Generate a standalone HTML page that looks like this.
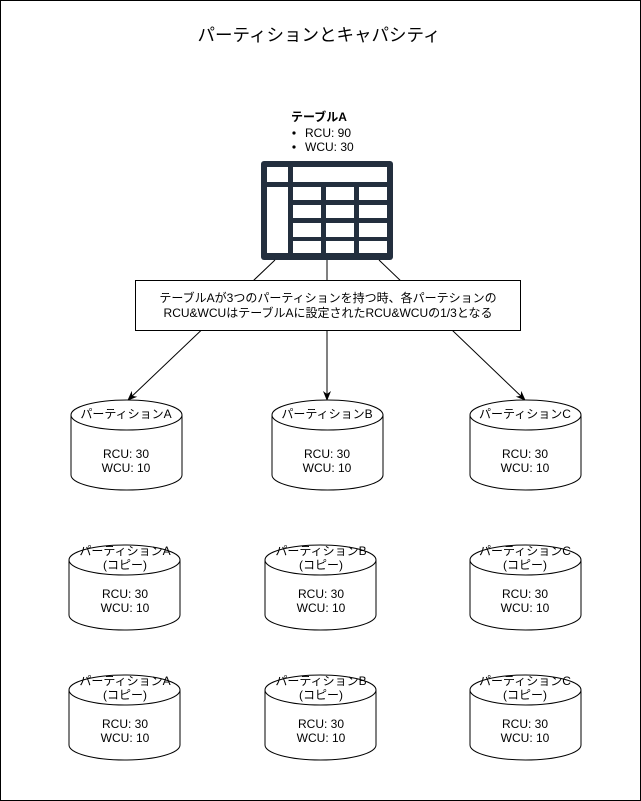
<!DOCTYPE html>
<html><head><meta charset="utf-8"><style>
html,body{margin:0;padding:0;background:#fff}
svg{display:block}
text{font-family:"Liberation Sans","Noto Sans CJK JP",sans-serif;fill:#000}
</style></head><body>
<svg width="641" height="801" viewBox="0 0 641 801" xmlns="http://www.w3.org/2000/svg">
<defs>
<marker id="ar" markerWidth="10" markerHeight="10" refX="9" refY="5" orient="auto" markerUnits="userSpaceOnUse">
<path d="M0,1 L10,5 L0,9 L3,5 Z" fill="#000"/>
</marker>
<g id="cyl">
<path d="M0,15 A55.5,15 0 0 1 111,15 L111,75 A55.5,15 0 0 1 0,75 Z" fill="#fff" stroke="#000" stroke-width="1"/>
<path d="M0,15 A55.5,15 0 0 0 111,15" fill="none" stroke="#000" stroke-width="1"/>
</g>
<g id="cyl2">
<path d="M0,15 A55.5,15 0 0 1 111,15 L111,70 A55.5,15 0 0 1 0,70 Z" fill="#fff" stroke="#000" stroke-width="1"/>
<path d="M0,15 A55.5,15 0 0 0 111,15" fill="none" stroke="#000" stroke-width="1"/>
</g>
</defs>
<rect x="0.5" y="0.5" width="640" height="800" fill="#fff" stroke="#000"/>
<text x="319" y="41" font-size="17.5" text-anchor="middle">パーティションとキャパシティ</text>

<text x="291" y="121" font-size="12" font-weight="bold">テーブルA</text>
<circle cx="294" cy="133" r="1.6" fill="#000"/>
<circle cx="294" cy="147" r="1.6" fill="#000"/>
<text x="305" y="137" font-size="12">RCU: 90</text>
<text x="305" y="151" font-size="12">WCU: 30</text>

<rect x="261" y="161" width="132" height="99" rx="3" fill="#232F3E"/>
<g fill="#fff">
<rect x="267" y="167" width="21" height="15"/>
<rect x="293" y="167" width="94" height="15"/>
<rect x="267" y="187" width="21" height="66"/>
<rect x="293" y="187" width="28" height="13"/><rect x="326" y="187" width="28" height="13"/><rect x="359" y="187" width="28" height="13"/>
<rect x="293" y="205" width="28" height="13"/><rect x="326" y="205" width="28" height="13"/><rect x="359" y="205" width="28" height="13"/>
<rect x="293" y="223" width="28" height="14"/><rect x="326" y="223" width="28" height="14"/><rect x="359" y="223" width="28" height="14"/>
<rect x="293" y="241" width="28" height="12"/><rect x="326" y="241" width="28" height="12"/><rect x="359" y="241" width="28" height="12"/>
</g>

<g stroke="#000" stroke-width="1" fill="none">
<line x1="275" y1="260" x2="128" y2="400" marker-end="url(#ar)"/>
<line x1="327" y1="260" x2="327" y2="400" marker-end="url(#ar)"/>
<line x1="379" y1="260" x2="525" y2="400" marker-end="url(#ar)"/>
</g>

<rect x="135.5" y="280.5" width="385" height="50" fill="#fff" stroke="#000"/>
<text x="328" y="302" font-size="12" text-anchor="middle">テーブルAが3つのパーティションを持つ時、各パーテションの</text>
<text x="328" y="317" font-size="12" text-anchor="middle">RCU&amp;WCUはテーブルAに設定されたRCU&amp;WCUの1/3となる</text>

<use href="#cyl" x="71" y="400"/>
<use href="#cyl" x="272" y="400"/>
<use href="#cyl" x="470" y="400"/>
<g font-size="12" text-anchor="middle">
<text x="126" y="418">パーティションA</text><text x="126" y="458">RCU: 30</text><text x="126" y="472">WCU: 10</text>
<text x="327" y="418">パーティションB</text><text x="327" y="458">RCU: 30</text><text x="327" y="472">WCU: 10</text>
<text x="525" y="418">パーティションC</text><text x="525" y="458">RCU: 30</text><text x="525" y="472">WCU: 10</text>
</g>

<use href="#cyl2" x="69" y="545"/>
<use href="#cyl2" x="265" y="545"/>
<use href="#cyl2" x="470" y="545"/>
<use href="#cyl2" x="69" y="675"/>
<use href="#cyl2" x="265" y="675"/>
<use href="#cyl2" x="470" y="675"/>
<g font-size="12" text-anchor="middle">
<text x="125" y="555">パーティションA</text><text x="125" y="569">(コピー)</text><text x="125" y="598">RCU: 30</text><text x="125" y="612">WCU: 10</text>
<text x="321" y="555">パーティションB</text><text x="321" y="569">(コピー)</text><text x="321" y="598">RCU: 30</text><text x="321" y="612">WCU: 10</text>
<text x="525" y="555">パーティションC</text><text x="525" y="569">(コピー)</text><text x="525" y="598">RCU: 30</text><text x="525" y="612">WCU: 10</text>

<text x="125" y="685">パーティションA</text><text x="125" y="699">(コピー)</text><text x="125" y="728">RCU: 30</text><text x="125" y="742">WCU: 10</text>
<text x="321" y="685">パーティションB</text><text x="321" y="699">(コピー)</text><text x="321" y="728">RCU: 30</text><text x="321" y="742">WCU: 10</text>
<text x="525" y="685">パーティションC</text><text x="525" y="699">(コピー)</text><text x="525" y="728">RCU: 30</text><text x="525" y="742">WCU: 10</text>
</g>
</svg>
</body></html>
